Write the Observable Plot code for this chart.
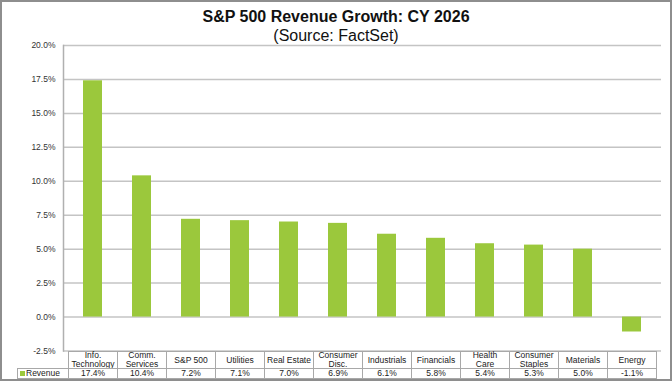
<!DOCTYPE html>
<html><head><meta charset="utf-8">
<script src="https://cdn.jsdelivr.net/npm/d3@7"></script>
<script src="https://cdn.jsdelivr.net/npm/@observablehq/plot@0.6"></script>
<style>
body{margin:0;background:#fff;font-family:"Liberation Sans",Arial,sans-serif;}
#wrap{position:relative;width:672px;height:384px;overflow:hidden;background:#fff}
#border{position:absolute;left:0;top:0;width:672px;height:381px;box-sizing:border-box;border:2px solid #8e8e8e;pointer-events:none}
#title{position:absolute;left:0;width:672px;top:8px;text-align:center;font-weight:bold;font-size:16px;color:#111;line-height:18px}
#subtitle{position:absolute;left:0;width:672px;top:27px;text-align:center;font-size:16px;color:#111;line-height:18px}
#chart{position:absolute;left:0;top:0}
.cell{position:absolute;box-sizing:border-box;border:1px solid #a8a8a8;font-size:8.5px;color:#222;display:flex;align-items:center;justify-content:center;text-align:center;line-height:8.8px;background:#fff}
</style></head>
<body>
<div id="wrap">
  <div id="chart"></div>
  <div id="title">S&amp;P 500 Revenue Growth: CY 2026</div>
  <div id="subtitle">(Source: FactSet)</div>
  <div id="table"></div>
  <div id="border"></div>
</div>
<script>
const categories = ["Info.\nTechnology","Comm.\nServices","S&P 500","Utilities","Real Estate","Consumer\nDisc.","Industrials","Financials","Health\nCare","Consumer\nStaples","Materials","Energy"];
const revenue = [17.4, 10.4, 7.2, 7.1, 7.0, 6.9, 6.1, 5.8, 5.4, 5.3, 5.0, -1.1];
const yTicks = [-2.5, 0, 2.5, 5, 7.5, 10, 12.5, 15, 17.5, 20];
const seriesName = "Revenue";
const barColor = "#9bc83c";

const data = categories.map((c, i) => ({cat: c, val: revenue[i]}));

const plot = Plot.plot({
  width: 672, height: 384,
  marginLeft: 63, marginRight: 11, marginTop: 45, marginBottom: 33.5,
  style: {fontFamily: '"Liberation Sans", Arial, sans-serif', background: "transparent"},
  x: {type: "band", domain: categories, padding: 0, axis: null},
  y: {domain: [-2.5, 20], axis: null},
  marks: [
    Plot.ruleY(yTicks, {stroke: "#c4c4c4", strokeWidth: 1.5}),
    Plot.barY(data, {x: "cat", y: "val", fill: barColor, insetLeft: 15, insetRight: 15}),
    Plot.frame({anchor: "left", stroke: "#b0b0b0", strokeWidth: 1.5}),
    Plot.axisY(yTicks, {tickSize: 0, tickPadding: 8, tickFormat: d => d.toFixed(1) + "%", fontSize: 8.5, fill: "#333", label: null})
  ]
});
document.getElementById("chart").appendChild(plot);

const xs = plot.scale("x");
const ys = plot.scale("y");
const bw = xs.bandwidth;
const tableTop = ys.apply(-2.5);
const row1H = 17, row2H = 9.5;
const tbl = document.getElementById("table");
function cell(left, top, w, h, html) {
  const d = document.createElement("div");
  d.className = "cell";
  d.style.left = left + "px"; d.style.top = top + "px";
  d.style.width = w + "px"; d.style.height = h + "px";
  d.innerHTML = html;
  tbl.appendChild(d);
  return d;
}
categories.forEach((c, i) => {
  const x0 = Math.round(xs.apply(c) - 0.5);
  const x1 = Math.round(xs.apply(c) + bw - 0.5);
  cell(x0, Math.round(tableTop), x1 - x0 + 1, row1H + 1, c.replace("\n", "<br>").replace("&", "&amp;"));
  cell(x0, Math.round(tableTop) + row1H, x1 - x0 + 1, row2H + 1, revenue[i].toFixed(1) + "%");
});
const lx0 = 17, lx1 = Math.round(xs.apply(categories[0]) - 0.5);
const lc = cell(lx0, Math.round(tableTop) + row1H, lx1 - lx0 + 1, row2H + 1,
  `<span style="display:inline-block;width:5px;height:5px;background:${barColor};margin-right:1px"></span>${seriesName}`);
lc.style.justifyContent = "flex-start";
lc.style.paddingLeft = "2px";
</script>
</body></html>
